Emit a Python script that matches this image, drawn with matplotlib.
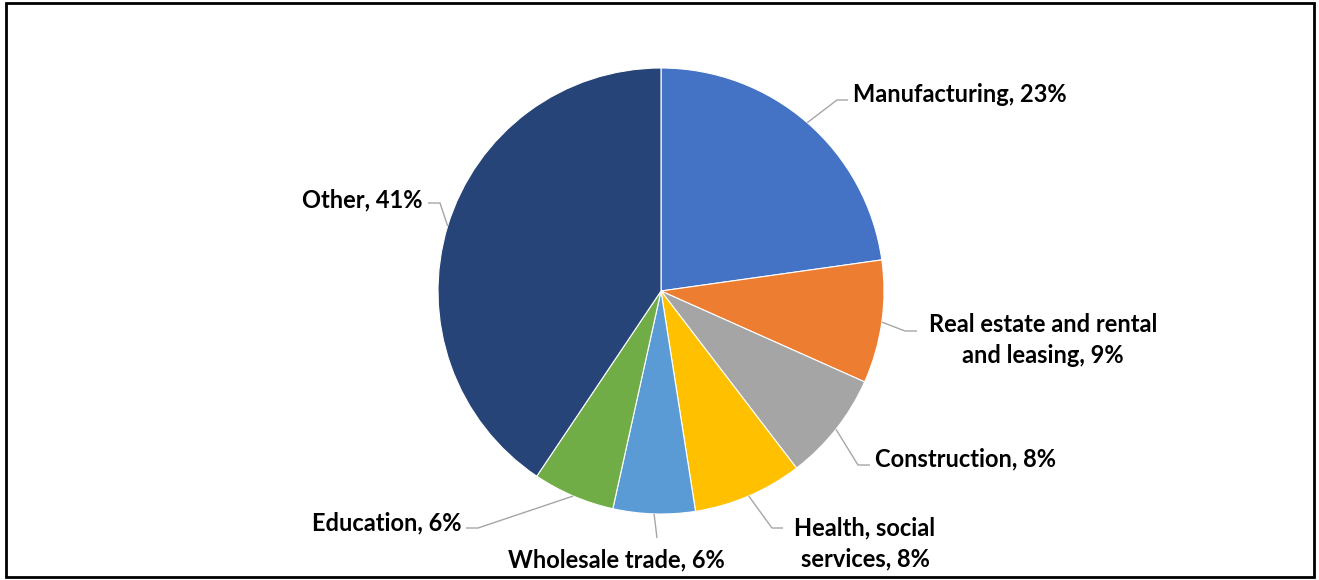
import matplotlib
matplotlib.use("Agg")
import matplotlib.pyplot as plt
from matplotlib.patches import Rectangle
import numpy as np

plt.rcParams['font.family'] = ['Lato', 'DejaVu Sans']

# industry shares (percent)
sectors = ["Manufacturing", "Real estate and rental\nand leasing", "Construction",
           "Health, social\nservices", "Wholesale trade", "Education", "Other"]
shares = [23, 9, 8, 8, 6, 6, 41]
colors = ["#4472C4", "#ED7D31", "#A5A5A5", "#FFC000", "#5B9BD5", "#70AD47", "#264478"]

W, H = 1319, 580
fig = plt.figure(figsize=(W / 100, H / 100), dpi=100)
ax = fig.add_axes([0, 0, 1, 1])

cx, cy, r = 661, 580 - 291, 223
wedges, _ = ax.pie(shares, colors=colors, startangle=90, counterclock=False,
                   radius=r, center=(cx, cy), frame=True,
                   wedgeprops=dict(edgecolor="white", linewidth=0.8))
ax.set_xlim(0, W)
ax.set_ylim(0, H)
ax.set_aspect("equal")
ax.axis("off")

# label text position, alignment and leader elbow (pixel coords, y down)
label_layout = [
    dict(xy=(853, 94), ha="left", elbow=[(837, 100), (848, 100)]),
    dict(xy=(1043, 340), ha="center", elbow=[(905, 331), (917, 331)]),
    dict(xy=(875, 459), ha="left", elbow=[(858, 465), (870, 465)]),
    dict(xy=(865, 543), ha="center", elbow=[(772, 528), (783, 528)]),
    dict(xy=(616, 560), ha="center", elbow=[(657, 538)]),
    dict(xy=(462, 523), ha="right", elbow=[(478, 528), (466, 528)]),
    dict(xy=(423, 200), ha="right", elbow=[(440, 203), (428, 203)]),
]

for w, name, val, lay in zip(wedges, sectors, shares, label_layout):
    mid = np.deg2rad((w.theta1 + w.theta2) / 2)
    x0, y0 = cx + r * np.cos(mid), cy + r * np.sin(mid)
    xs = [x0] + [p[0] for p in lay["elbow"]]
    ys = [y0] + [H - p[1] for p in lay["elbow"]]
    ax.plot(xs, ys, color="#A6A6A6", lw=1.0, solid_capstyle="butt")
    ax.text(lay["xy"][0], H - lay["xy"][1], f"{name}, {val}%", ha=lay["ha"],
            va="center", multialignment="center", fontsize=17, fontweight="bold",
            color="black", linespacing=1.42)

fig.patches.append(Rectangle((6, 3), W - 11, H - 6, transform=None, fill=False,
                             edgecolor="black", linewidth=2.0))

fig.savefig("out.png", dpi=100)
